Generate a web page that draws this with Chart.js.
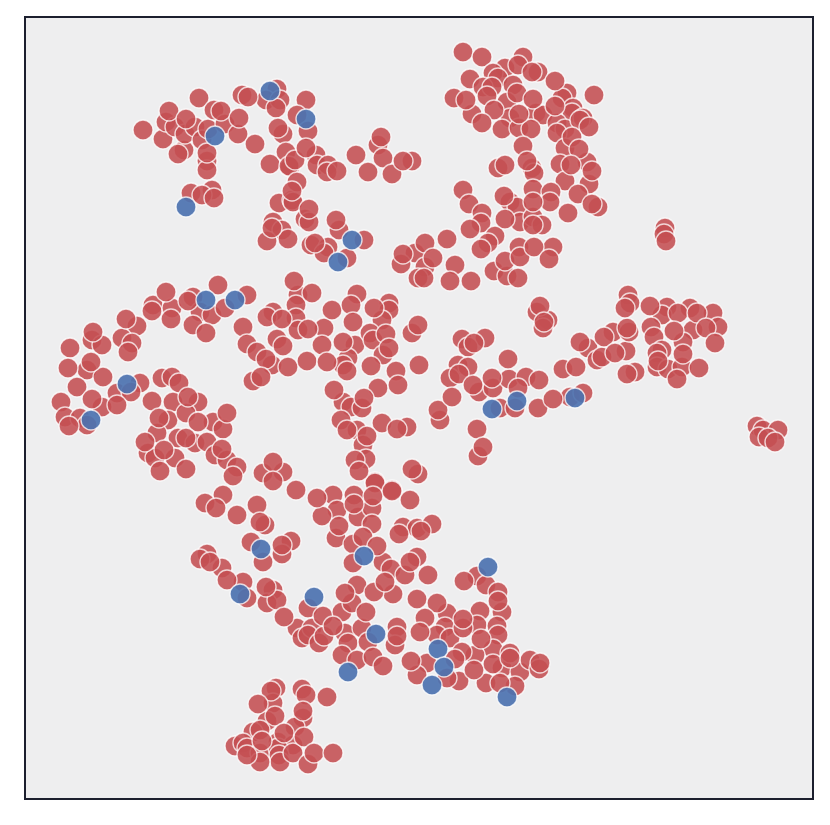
<!DOCTYPE html>
<html>
<head>
<meta charset="utf-8">
<title>scatter</title>
<script src="https://cdn.jsdelivr.net/npm/chart.js@4"></script>
<style>
    html, body { margin: 0; padding: 0; background: #ffffff; }
    canvas { display: block; }
</style>
</head>
<body>
<canvas id="myChart" width="830" height="825"></canvas>
<script>
// [x, y]
var redPoints = [
    [143,130],[163,139],[166,122],[169,111],[186,119],[199,98],[178,154],[184,150],[175,127],[185,134],
    [195,127],[202,140],[208,129],[214,110],[221,111],[225,124],[239,118],[238,134],[255,144],[207,153],
    [207,161],[207,170],[191,193],[202,195],[212,190],[214,198],[242,95],[248,97],[277,89],[266,100],
    [280,100],[276,108],[278,128],[283,134],[270,164],[286,152],[295,160],[290,167],[292,191],[279,203],
    [292,200],[273,222],[272,228],[282,230],[267,241],[288,239],
    [306,100],[297,115],[308,131],[289,166],[306,148],[316,155],[317,165],[328,165],[327,172],[337,171],
    [356,155],[378,145],[381,137],[383,158],[368,172],[392,174],[403,161],[412,161],[297,182],[293,202],
    [309,209],[305,219],[309,222],[336,220],[339,230],[311,245],[315,243],[328,247],[324,253],[364,240],[347,258],
    [463,52],[482,57],[523,57],[505,68],[518,65],[493,73],[532,72],[538,72],[470,79],[498,78],
    [483,87],[492,87],[513,85],[555,81],[567,93],[562,98],[594,95],[454,98],[466,100],[487,96],
    [517,93],[533,99],[507,102],[555,106],[573,108],[572,113],[494,110],[472,114],[482,123],[510,118],
    [519,114],[536,113],[543,115],[502,129],[519,128],[531,129],[557,123],[565,129],[557,133],[583,118],
    [580,120],[589,127],[572,137],[565,148],[579,149],[523,146],[527,161],[532,168],[534,173],[560,164],
    [587,162],[571,165],[592,171],[565,181],[589,184],[505,165],[498,168],[463,190],[469,204],[504,196],
    [510,202],[517,207],[533,189],[551,192],[550,202],[533,202],[578,194],[568,213],[598,207],[592,204],
    [482,213],[481,223],[505,219],[470,229],[520,222],[533,217],[542,225],[533,225],[495,236],[488,243],
    [481,249],[447,239],[425,243],[415,253],[403,254],[401,264],[433,258],[425,267],[455,265],[418,278],
    [424,278],[450,281],[471,281],[494,271],[505,261],[520,257],[519,247],[534,247],[553,247],[549,259],
    [507,276],[518,278],
    [218,285],[166,292],[153,305],[152,311],[171,319],[172,308],[188,301],[193,297],[247,295],[200,312],
    [212,315],[193,325],[206,333],[225,308],[243,327],[126,319],[137,326],[122,338],[132,343],[128,352],
    [93,332],[92,340],[102,345],[70,348],[68,368],[91,362],[87,370],[103,377],[77,387],[92,399],
    [61,402],[102,407],[117,405],[140,383],[117,393],[131,392],[152,401],[65,417],[69,426],[80,418],
    [87,425],[162,378],[172,377],[179,383],[188,397],[173,402],[198,402],[159,418],[168,420],[186,413],
    [198,422],[157,433],[145,442],[148,453],[155,458],[164,450],[160,471],[186,469],[175,458],[178,438],
    [186,438],[195,443],[207,442],[215,455],[222,449],[227,460],[237,467],[233,476],[213,422],[223,429],[227,413],
    [294,281],[298,295],[312,293],[296,305],[273,312],[267,317],[282,319],[296,318],[298,330],[308,329],
    [324,328],[332,310],[247,344],[257,352],[277,339],[283,346],[266,359],[272,365],[261,377],[253,381],
    [288,367],[307,361],[322,345],[327,362],[343,342],[355,345],[348,358],[343,365],[347,371],[357,294],
    [351,305],[353,322],[374,308],[389,303],[389,310],[382,320],[370,333],[373,340],[386,334],[389,348],
    [383,355],[371,366],[396,371],[398,385],[419,365],[412,333],[418,325],[378,388],[334,390],[343,402],
    [351,407],[364,398],[362,408],[341,420],[347,430],[357,430],[382,423],[397,429],[407,427],[367,436],
    [363,445],[366,459],[355,460],[359,471],[412,469],[418,474],[273,462],[263,473],[283,472],[273,481],
    [375,482],[392,490],[296,490],[438,410],[440,420],
    [540,306],[537,312],[544,322],[548,320],[543,328],[462,339],[485,338],[474,343],[468,347],[508,359],
    [458,365],[468,367],[459,374],[450,378],[452,397],[473,385],[479,392],[492,378],[493,388],[509,379],
    [526,377],[518,388],[539,380],[500,408],[515,408],[538,408],[553,399],[570,397],[583,393],[477,429],
    [483,447],[478,456],[563,369],[576,367],[580,342],[588,348],[604,337],[613,332],[597,360],[602,357],
    [615,353],[626,351],[627,374],[635,372],[627,328],[629,332],[628,295],[630,303],[625,308],[650,306],
    [667,307],[678,313],[690,308],[697,313],[713,313],[662,315],[651,327],[654,337],[674,331],[693,330],
    [706,328],[718,327],[715,343],[683,342],[662,350],[657,353],[658,361],[657,367],[668,369],[683,354],
    [682,367],[677,379],[699,368],[757,426],[763,430],[778,430],[759,437],[768,438],[775,442],
    [665,228],[664,234],[666,241],
    [223,495],[205,503],[216,508],[237,515],[257,505],[260,522],[265,525],[251,542],[263,562],[282,545],
    [291,541],[282,554],[207,554],[200,559],[210,562],[222,568],[227,580],[243,582],[247,598],[266,587],
    [273,590],[267,603],[277,600],[284,617],[308,608],[297,628],[302,638],[312,628],[308,635],[319,643],
    [324,636],[323,616],[333,626],[342,612],[345,593],[357,585],[352,603],[345,633],[348,643],[342,655],
    [357,660],[366,612],[362,628],[368,642],[373,657],[383,666],[397,627],[397,636],[395,645],[374,592],
    [385,582],[393,594],[317,498],[333,495],[337,510],[322,516],[339,526],[336,538],[354,495],[354,504],
    [358,517],[375,483],[373,496],[372,508],[372,524],[392,491],[410,500],[363,537],[353,544],[377,546],
    [353,563],[383,562],[391,569],[403,527],[399,534],[417,528],[421,531],[432,524],[417,557],[410,562],
    [405,575],[428,575],
    [477,576],[464,581],[486,585],[498,592],[498,601],[502,612],[480,611],[417,599],[437,603],[447,613],
    [425,618],[420,632],[463,619],[445,627],[437,635],[450,638],[477,625],[463,628],[497,626],[498,635],
    [481,639],[493,649],[475,655],[462,652],[455,659],[474,670],[459,681],[447,678],[427,663],[411,661],
    [417,675],[493,664],[486,683],[502,668],[510,653],[510,658],[520,672],[515,686],[500,683],[530,660],
    [540,663],[539,669],
    [276,688],[271,691],[258,704],[273,703],[302,689],[306,695],[327,697],[303,711],[275,716],[267,721],
    [303,718],[253,732],[260,730],[295,727],[284,733],[304,737],[235,746],[243,743],[247,748],[262,741],
    [247,755],[260,753],[278,742],[293,745],[278,748],[279,755],[280,762],[260,762],[293,753],[314,753],
    [308,764],[333,753]
];

// red points that show a whole ring in the picture, these go on top of the others
var redOnTop = [
    [169,111],[186,119],[221,111],[239,118],[248,97],[178,154],[207,153],[214,198],[202,195],[272,228],[278,128],[292,191],
    [381,137],[403,161],[295,160],[306,148],[309,209],[315,243],[336,220],
    [532,72],[555,81],[594,95],[533,99],[555,106],[589,127],[579,149],[572,137],[592,171],[571,165],[533,202],[533,225],
    [592,204],[470,229],[481,249],[504,196],[505,219],[433,258],[424,278],[403,254],[425,243],[447,239],[534,247],[549,259],
    [518,278],[520,257],[505,261],[519,114],[517,93],[494,110],[487,96],[466,100],[482,123],[505,165],[527,161],
    [126,319],[128,352],[93,332],[91,362],[68,368],[77,387],[92,399],[117,405],[171,319],[166,292],[188,301],[218,285],
    [188,397],[159,418],[198,422],[186,438],[164,450],[145,442],[160,471],[186,469],[222,449],[233,476],[227,413],[69,426],
    [294,281],[312,293],[282,319],[308,329],[283,346],[266,359],[261,377],[288,367],[327,362],[307,361],[322,345],[343,342],
    [347,371],[351,305],[353,322],[374,308],[386,334],[389,348],[371,366],[398,385],[418,325],[364,398],[334,390],[347,430],
    [367,436],[382,423],[397,429],[359,471],[412,469],[273,462],[273,481],[332,310],
    [540,306],[544,322],[474,343],[508,359],[459,374],[452,397],[473,385],[492,378],[539,380],[553,399],[477,429],[483,447],
    [576,367],[580,342],[604,337],[615,353],[627,328],[625,308],[650,306],[678,313],[697,313],[674,331],[706,328],[715,343],
    [658,361],[683,354],[699,368],[775,442],[438,410],[518,388],[627,374],[666,241],
    [216,508],[237,515],[260,522],[282,545],[210,562],[227,580],[266,587],[284,617],[333,626],[345,593],[366,612],[397,636],
    [374,592],[385,582],[354,504],[373,496],[339,526],[317,498],[392,491],[410,500],[363,537],[377,546],[421,531],[399,534],
    [410,562],[428,575],[417,599],[420,632],[411,661],
    [498,601],[463,619],[481,639],[474,670],[493,664],[510,658],[540,663],[437,603],[425,618],
    [271,691],[258,704],[306,695],[327,697],[303,711],[275,716],[284,733],[304,737],[262,741],[247,755],[314,753],[333,753]
];

var bluePoints = [
    [215,136],[186,207],[270,91],[306,119],[352,240],[338,262],[206,300],[235,300],[127,384],[91,420],
    [492,409],[517,401],[575,398],[261,549],[240,594],[314,597],[364,556],[376,634],[348,672],[488,567],
    [438,649],[444,667],[432,685],[507,697]
];

var xRange = [25, 813];
var yRange = [17, 799];

var topKeys = redOnTop.map(String);
var redBack = redPoints.filter(function(p) { return topKeys.indexOf(String(p)) < 0; });
var redFront = redPoints.filter(function(p) { return topKeys.indexOf(String(p)) >= 0; });

// panel fill and frame, the axes themselves are hidden
var panelPlugin = {
    id: 'panel',
    beforeDatasetsDraw: function(chart) {
        var a = chart.chartArea;
        chart.ctx.save();
        chart.ctx.fillStyle = '#EEEEEF';
        chart.ctx.fillRect(a.left, a.top, a.width, a.height);
        chart.ctx.restore();
    },
    afterDraw: function(chart) {
        var a = chart.chartArea;
        chart.ctx.save();
        chart.ctx.strokeStyle = '#1C1F2E';
        chart.ctx.lineWidth = 2;
        chart.ctx.strokeRect(a.left, a.top, a.width, a.height);
        chart.ctx.restore();
    }
};

var ctx = document.getElementById('myChart');
var myChart = new Chart(ctx, {
    type: 'scatter',
    data: {
        datasets: [ {
            label: 'blue',
            data: bluePoints,
            order: 1,
            backgroundColor: 'rgba(76, 114, 176, 0.92)',
            borderColor: 'rgba(255, 255, 255, 0.75)',
            borderWidth: 1.4,
            pointRadius: 10
        }, {
            label: 'red',
            data: redBack.concat(redFront),
            order: 2,
            backgroundColor: 'rgba(196, 78, 82, 0.88)',
            borderColor: 'rgba(255, 255, 255, 0.75)',
            borderWidth: 1.4,
            pointRadius: 10
        } ]
    },
    options: {
        responsive: false,
        animation: false,
        layout: { padding: { left: 25, right: 17, top: 17, bottom: 26 } },
        plugins: { legend: { display: false }, tooltip: { enabled: false } },
        scales: {
            x: { display: false, min: xRange[0], max: xRange[1] },
            y: { display: false, min: yRange[0], max: yRange[1], reverse: true }
        }
    },
    plugins: [ panelPlugin ]
});
</script>
</body>
</html>
